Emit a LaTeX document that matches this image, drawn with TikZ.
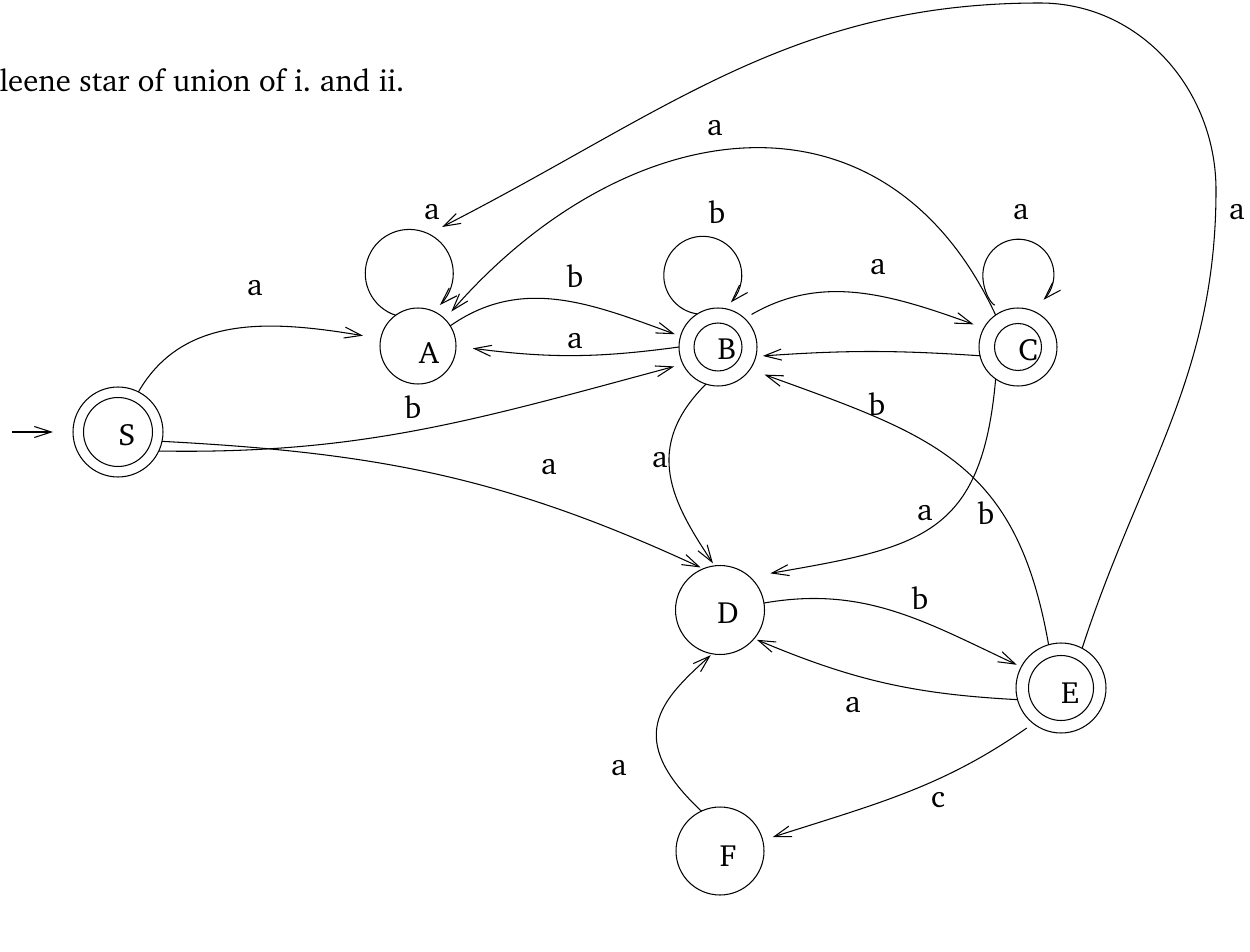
\documentclass[tikz,border=0pt]{standalone}
\usepackage[T1]{fontenc}
\usepackage{charter}
\usetikzlibrary{arrows.meta,bending,calc}
\begin{document}
\begin{tikzpicture}[x=0.02cm,y=-0.02cm,
  line width=0.6pt,
  >={Straight Barb[length=0.34cm,width=0.22cm]},
  ring/.style={circle,draw,inner sep=0pt,outer sep=0pt,minimum size=#1},
  sym/.style={font=\fontsize{17.5}{21}\selectfont,inner sep=0pt},
  tr/.style={->},
]
\useasboundingbox (0,0) rectangle (1250,952);

\node[sym,anchor=base west] (title) at (-1,92) {leene star of union of i.\ and ii.};

% states
\node[ring=1.8cm]  (S)  at (118,432) {};
\node[ring=1.38cm] (Si) at (118,432) {};
\node[sym] (Sl) at (127,435) {S};

\node[ring=1.52cm] (A)  at (418,346) {};
\node[sym] (Al) at (429,353) {A};

\node[ring=1.56cm] (B)  at (718,347) {};
\node[ring=0.96cm] (Bi) at (718,347) {};
\node[sym] (Bl) at (727,349) {B};

\node[ring=1.56cm] (C)  at (1018,347) {};
\node[ring=0.94cm] (Ci) at (1018,347) {};
\node[sym] (Cl) at (1028,350) {C};

\node[ring=1.78cm] (D)  at (720,610) {};
\node[sym] (Dl) at (728,613) {D};

\node[ring=1.8cm]  (E)  at (1061,688) {};
\node[ring=1.3cm]  (Ei) at (1061,688) {};
\node[sym] (El) at (1070,693) {E};

\node[ring=1.76cm] (F)  at (720,851) {};
\node[sym] (Fl) at (728,856) {F};

% initial arrow
\coordinate (init) at (12,432);
\draw[tr,shorten >=0.4cm] (init) -- (S.180);

% transitions
\draw[tr,shorten >=0.36cm] (S.63) to[out=60,in=170] (A.169);
\draw[tr,shorten >=0.18cm] (S.-25) to[out=-1,in=195] (B.206);
\draw[tr,shorten >=0.06cm] (S.-12) to[out=-3,in=155] (D.112);
\draw[tr,shorten >=0.12cm] (A.32) to[out=35,in=160] (B.164);
\draw[tr,shorten >=0.34cm] (B.180) to[bend left=8] (A.0);
\draw[tr,shorten >=0.22cm,shorten <=0.16cm] (B.47) to[out=30,in=160] (C.151);
\draw[tr,shorten >=0.14cm] (C.193) to[bend right=4] (B.-14);
\draw[tr,shorten >=0.31cm] (E.106) to[out=100,in=-20,looseness=1.2] (B.-35);
\draw[tr,shorten >=0.42cm] (C.-125) to[out=-95,in=10,looseness=1.35] (D.48);
\draw[tr,shorten >=0.1cm] (D.9) to[out=10,in=155] (E.152);
\draw[tr,shorten >=0.06cm] (E.195) to[bend left=10] (D.-40);
\draw[tr,shorten >=0.04cm] (F.115) .. controls +(-80,-75) and +(-50,45) .. (D.-100);
\draw[tr,shorten >=0.21cm,shorten <=0.16cm] (E.-128) to[out=-145,in=18] (F.14);
\draw[tr,shorten >=0.06cm] (B.-108) .. controls +(-66,66) and +(-40,-60) .. (D.97);
\draw[tr,shorten >=0.2cm] (C.125) to[out=115,in=50,looseness=1.25] (A.45);
\draw[tr] (E.62) to[out=72,in=-90] (1216,190) to[out=90,in=0] (1040,3)
  to[out=180,in=27] ($(A)+(24,-119)$);

% self loops
\draw[tr] (A.126) arc[start angle=252, end angle=-46, radius=0.88cm];
\draw[tr] (B.122) arc[start angle=262, end angle=-44, radius=0.78cm];
\draw[tr,shorten <=0.3cm] (C.103) arc[start angle=255, end angle=-45, radius=0.71cm];

% transition labels
\node[sym] (t1)  at (255,288) {a};
\node[sym] (t2)  at (413,407) {b};
\node[sym] (t3)  at (549,467) {a};
\node[sym] (t4)  at (575,276) {b};
\node[sym] (t5)  at (575,341) {a};
\node[sym] (t6)  at (432,212) {a};
\node[sym] (t7)  at (717,212) {b};
\node[sym] (t8)  at (878,267) {a};
\node[sym] (t9)  at (1021,212) {a};
\node[sym] (t10) at (715,128) {a};
\node[sym] (t11) at (1237,212) {a};
\node[sym] (t12) at (877,404) {b};
\node[sym] (t13) at (660,460) {a};
\node[sym] (t14) at (925,513) {a};
\node[sym] (t15) at (986,513) {b};
\node[sym] (t16) at (920,598) {b};
\node[sym] (t17) at (853,705) {a};
\node[sym] (t18) at (619,768) {a};
\node[sym] (t19) at (938,800) {c};
\end{tikzpicture}
\end{document}
